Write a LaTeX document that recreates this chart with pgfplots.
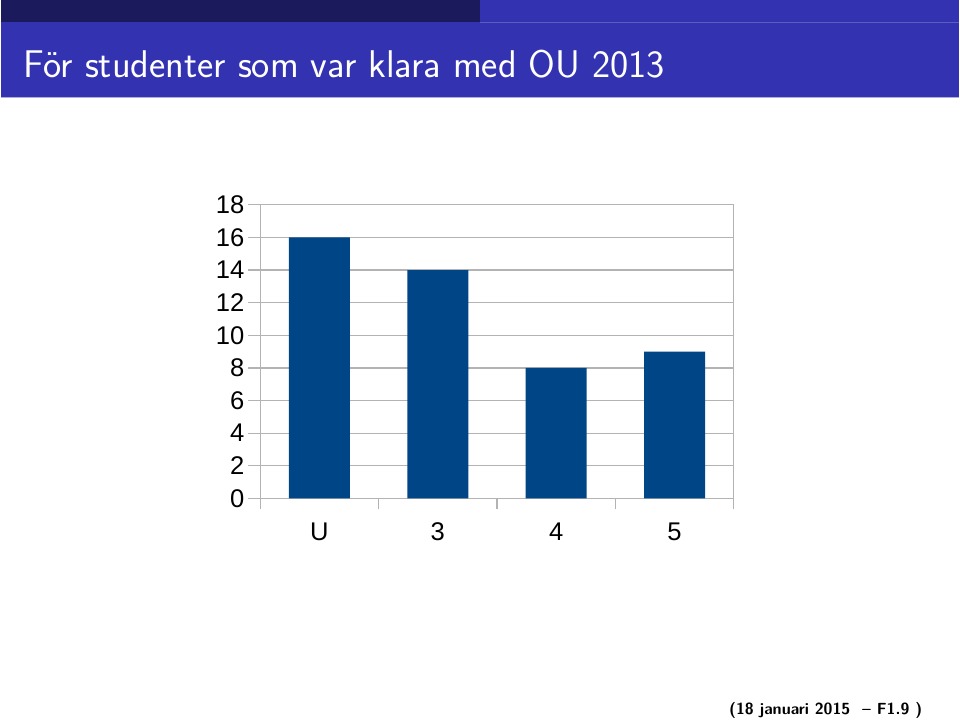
\documentclass[border=0pt]{standalone}
\usepackage{fontspec}
\usepackage{pgfplots}
\pgfplotsset{compat=1.18}
\newfontfamily\chartfont{Liberation Sans}
\newfontfamily\titlefont{lmsans17-regular.otf}
\definecolor{headblue}{RGB}{51,51,178}
\definecolor{headdark}{RGB}{27,26,92}
\definecolor{barblue}{RGB}{0,69,134}
\definecolor{gridgray}{RGB}{179,179,179}

\begin{document}
\begin{tikzpicture}
	% slide: 960x720 px, 1px = 0.375pt
	\fill[white] (0,0) rectangle (360pt,270pt);
	\fill[headblue] (0,233.6pt) rectangle (360pt,270pt);
	\fill[headdark] (0,261.75pt) rectangle (180pt,270pt);
	\draw[headblue!80!white, line width=0.3pt] (180pt,261.6pt) -- (360pt,261.6pt);
	\draw[headblue!40!white, line width=0.4pt] (0,233.4pt) -- (360pt,233.4pt);
	\node[anchor=base west, inner sep=0pt, text=white, font=\titlefont\fontsize{14.5}{16}\selectfont]
		at (8.25pt,240.75pt) {För studenter som var klara med OU 2013};
	\node[anchor=base east, inner sep=0pt, font=\sffamily\bfseries\fontsize{6.05}{7}\selectfont]
		at (346.2pt,1.6pt) {(18 januari 2015 \ -- F1.9 )};

	\begin{axis}[
		at={(97.5pt,82.875pt)},
		anchor=south west,
		scale only axis,
		width=177.75pt,
		height=110.25pt,
		xmin=0, xmax=4,
		ymin=0, ymax=18,
		ytick={0,2,...,18},
		xtick={0.5,1.5,2.5,3.5},
		xticklabels={U,3,4,5},
		minor xtick={0,1,2,3,4},
		ymajorgrids=true,
		grid style={gridgray, line width=0.5pt},
		axis line style={gridgray, line width=0.5pt},
		tick style={gridgray, line width=0.5pt},
		tick align=outside,
		x tick style={draw=none},
		minor x tick style={draw=gridgray},
		minor tick length=4.1pt,
		y tick style={gridgray},
		major tick length=4.5pt,
		xtick pos=bottom,
		ytick pos=left,
		tick label style={font=\chartfont\fontsize{9.6}{10}\selectfont, text=black},
		/pgf/number format/assume math mode=true,
		xticklabel style={inner sep=0pt, anchor=north, yshift=-4.5pt},
		yticklabel style={inner sep=0pt, xshift=-1.3pt},
		ybar,
		bar width=0.515,
		]
		\addplot[fill=barblue, draw=none] coordinates {(0.5,16) (1.5,14) (2.5,8) (3.5,9)};
	\end{axis}
\end{tikzpicture}
\end{document}
